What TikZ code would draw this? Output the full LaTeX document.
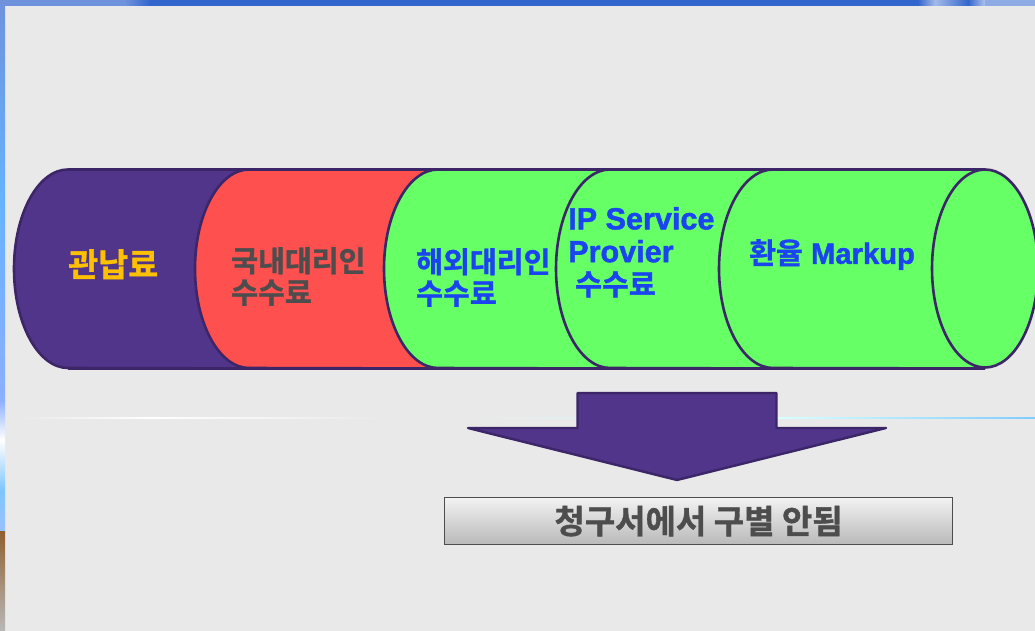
\documentclass[tikz,border=0pt]{standalone}
\usepackage{fontspec}
\setmainfont{Liberation Sans}[BoldFeatures={FakeBold=1.5}]
\newfontfamily\kr{Noto Sans CJK KR Black}[FakeBold=1.1]
\definecolor{bgc}{HTML}{E9E9E9}
\definecolor{purp}{HTML}{50358A}
\definecolor{edge}{HTML}{3D2668}
\definecolor{redc}{HTML}{FF5050}
\definecolor{grn}{HTML}{66FF66}
\definecolor{blu}{HTML}{1A44F0}
\definecolor{gry}{HTML}{4D4D4D}
\definecolor{gold}{HTML}{FFC000}
\definecolor{topd}{HTML}{3366CC}
\definecolor{topl}{HTML}{6F92DC}
\tikzset{
 x=1pt,y=-1pt,
 seg/.style={draw=edge,line width=2.6pt,line join=round},
 lab/.style={anchor=north west,inner sep=0pt,align=left,font=\fontsize{29.2}{31.5}\selectfont\bfseries},
}
\newcommand{\seglike}[3]{%
 \fill[#2] (#1,169.5) arc[start angle=90,end angle=270,x radius=54,y radius=-99.25] -- (#3,368.5) -- (#3,169.5) -- cycle;
 \draw[seg] (#3,169.5) -- (#1,169.5) arc[start angle=90,end angle=270,x radius=54,y radius=-99.25] -- (#3,368.5);}
\begin{document}
\begin{tikzpicture}
\useasboundingbox (0,0) rectangle (1035,631);
\fill[bgc] (0,0) rectangle (1035,631);
% window edges
\fill[topl] (0,0) rectangle (125,6);
\shade[left color=topl,right color=topd] (125,0) rectangle (150,6);
\fill[topd] (150,0) rectangle (918,6);
\shade[left color=topd,right color=white!55!topd] (918,0) rectangle (935,6);
\shade[left color=white!55!topd,right color=topd] (935,0) rectangle (968,6);
\shade[left color=topd,right color=white!60!topd] (968,0) rectangle (985,6);
\fill[white!45!topd] (985,0) rectangle (1035,6);
\shade[top color=topl,bottom color=cyan!50!blue!60!white] (0,0) rectangle (5,200);
\shade[top color=cyan!50!blue!60!white,bottom color=cyan!30!blue!45!white] (0,200) rectangle (5,400);
\shade[top color=cyan!30!blue!45!white,bottom color=white] (0,400) rectangle (5,440);
\shade[top color=white,bottom color=blue!45!cyan!50!white] (0,440) rectangle (5,490);
\shade[top color=blue!45!cyan!50!white,bottom color=cyan!40!blue!40!white] (0,490) rectangle (5,531);
\shade[top color=brown!75!black,bottom color=gray!55] (0,531) rectangle (5,631);
% faint rules
\shade[left color=bgc,right color=white] (20,417.5) rectangle (150,418.3);
\shade[left color=white,right color=bgc] (150,417.5) rectangle (385,418.3);
\shade[left color=bgc,right color=cyan!15!white] (470,417.5) rectangle (780,418.3);
\shade[left color=cyan!15!white,right color=blue!40!cyan!50!white] (780,417.5) rectangle (1035,418.3);
% cylinder
\seglike{68}{purp}{280}
\seglike{249}{redc}{440}
\seglike{438}{grn}{605}
\seglike{610}{grn}{780}
\seglike{773}{grn}{985}
\draw[seg,fill=grn] (985,268.5) ellipse[x radius=53,y radius=99];
\draw[seg] (68,169.5) -- (985,169.5) (68,368.5) -- (985,368.5);
% labels
\node[lab,text=gold,font=\fontsize{32.6}{34}\selectfont\bfseries] (a) at (68,249) {\kr 관납료};
\node[lab,text=gry] (b) at (231,247) {\kr 국내대리인\\\kr 수수료};
\node[lab,text=blu] (c) at (416,248) {\kr 해외대리인\\\kr 수수료};
\node[lab,text=blu,font=\fontsize{30.6}{32.8}\selectfont\bfseries] (d) at (568,207) {IP Service\\Provier\\\hspace{7pt}{\fontsize{29.2}{32.8}\selectfont\kr 수수료}};
\node[lab,text=blu] (e) at (749,239) {\kr 환율\rm\bfseries{} Markup};
% arrow
\draw[fill=purp,draw=edge,line width=2.4pt,line join=round] (577.5,393) -- (776.5,393) -- (776.5,428) -- (886,428) -- (677,480) -- (468,428) -- (577.5,428) -- cycle;
% box
\node[draw=gry,line width=1.2pt,top color=gray!10,bottom color=gray!55,minimum width=508pt,minimum height=47pt,inner sep=0pt,anchor=north west,text=gry,font=\fontsize{33}{35}\selectfont\bfseries] (f) at (444,497) {\kr 청구서에서 구별 안됨};
\end{tikzpicture}
\end{document}
